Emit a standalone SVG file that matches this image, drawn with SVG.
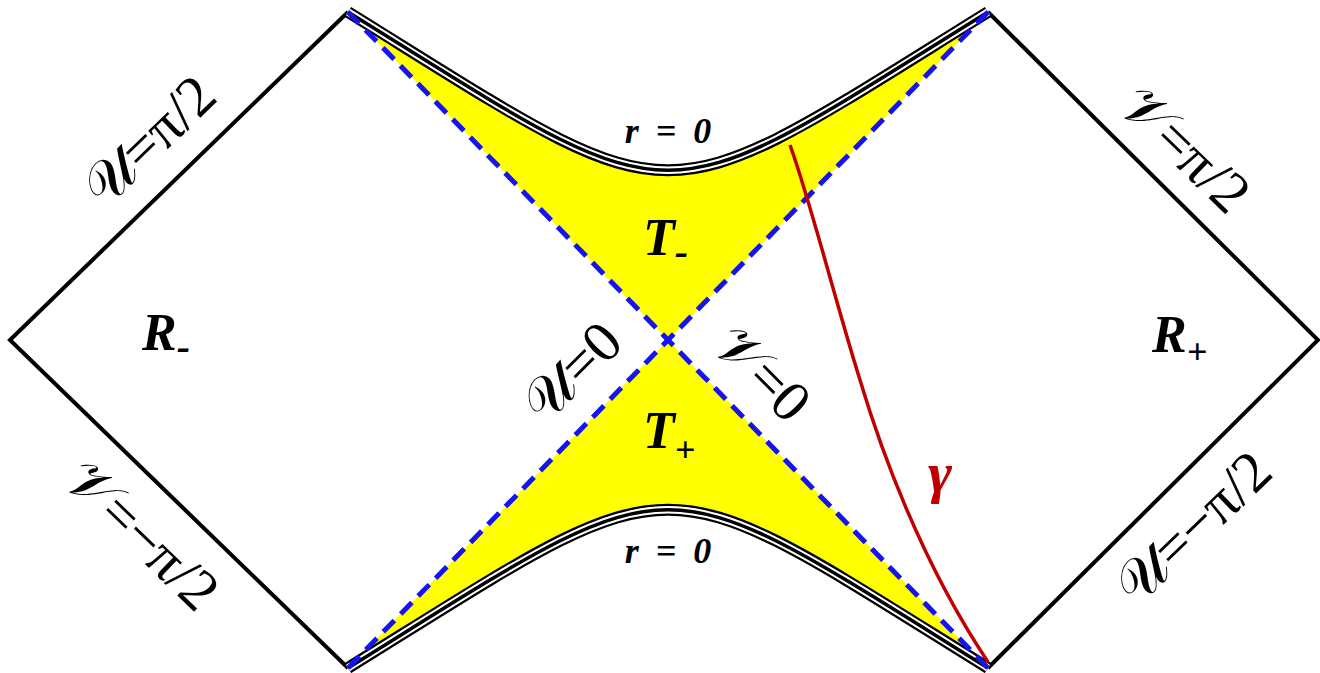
<svg xmlns="http://www.w3.org/2000/svg" width="1320" height="673" viewBox="0 0 1320 673">
<style>
.edge{fill:none;stroke:#000;stroke-width:4;stroke-linejoin:miter}
.sb{fill:none;stroke:#000;stroke-width:12}
.sw{fill:none;stroke:#fff;stroke-width:7.5}
.sc{fill:none;stroke:#000;stroke-width:3.5}
.dash{fill:none;stroke:#1414f0;stroke-width:5;stroke-dasharray:16 9}
.yel{fill:#ffff00;stroke:none}
.lbl{font-weight:bold;font-style:italic;fill:#000}
.ax{font-size:58px;fill:#000}
</style>
<rect width="1320" height="673" fill="#fff"/>
<g id="regions">
<path class="yel" d="M348,12 C688,223 648,223 988,12 L668,340 Z"/>
<path class="yel" d="M348,668 C688,457 648,457 988,668 L668,340 Z"/>
</g>
<g id="boundaries">
<path class="edge" d="M348,12 L10,340 L348,668"/>
<path class="edge" d="M988,12 L1318,340 L988,668"/>
</g>
<g id="singularities">
<path class="sb" d="M348,12 C688,223 648,223 988,12"/>
<path class="sw" d="M348,12 C688,223 648,223 988,12"/>
<path class="sc" d="M348,12 C688,223 648,223 988,12"/>
<path class="sb" d="M348,668 C688,457 648,457 988,668"/>
<path class="sw" d="M348,668 C688,457 648,457 988,668"/>
<path class="sc" d="M348,668 C688,457 648,457 988,668"/>
</g>
<g id="connectors">
<path class="dash" d="M348,12 L988,668"/>
<path class="dash" d="M988,12 L348,668"/>
<path id="gamma-curve" d="M790,145 C810,200 835,300 860,380 C880,447 920,560 988,662" fill="none" stroke="#c00000" stroke-width="3.5"/>
</g>
<g id="labels" font-family="'Liberation Serif', 'Times New Roman', Tinos, 'Noto Serif', 'DejaVu Serif', serif">
<text class="lbl" x="669" y="143" font-size="36" text-anchor="middle" letter-spacing="2" word-spacing="4">r = 0</text>
<text class="lbl" x="669" y="563" font-size="36" text-anchor="middle" letter-spacing="2" word-spacing="4">r = 0</text>
<text class="lbl" x="643" y="255" font-size="52">T<tspan font-size="40" dy="10">-</tspan></text>
<text class="lbl" x="643" y="448" font-size="52">T<tspan font-size="36" dy="14">+</tspan></text>
<text class="lbl" x="142" y="350" font-size="52">R<tspan font-size="40" dy="10">-</tspan></text>
<text class="lbl" x="1152" y="352" font-size="52">R<tspan font-size="36" dy="12">+</tspan></text>
<text class="lbl" x="928" y="492" font-size="58" fill="#c00000" style="fill:#c00000">γ</text>
<text class="ax" text-anchor="middle" dy="0.35em" transform="translate(148,140) rotate(-44)">𝒰=π/2</text>
<text class="ax" text-anchor="middle" dy="0.35em" transform="translate(1186,148) rotate(44)">𝒱=π/2</text>
<text class="ax" text-anchor="middle" dy="0.35em" transform="translate(143,534) rotate(44)">𝒱=−π/2</text>
<text class="ax" text-anchor="middle" dy="0.35em" transform="translate(1192,527) rotate(-44)">𝒰=−π/2</text>
<text class="ax" text-anchor="middle" dy="0.35em" transform="translate(571,371) rotate(-45)">𝒰=0</text>
<text class="ax" text-anchor="middle" dy="0.35em" transform="translate(763,372) rotate(45)">𝒱=0</text>
</g>
</svg>
